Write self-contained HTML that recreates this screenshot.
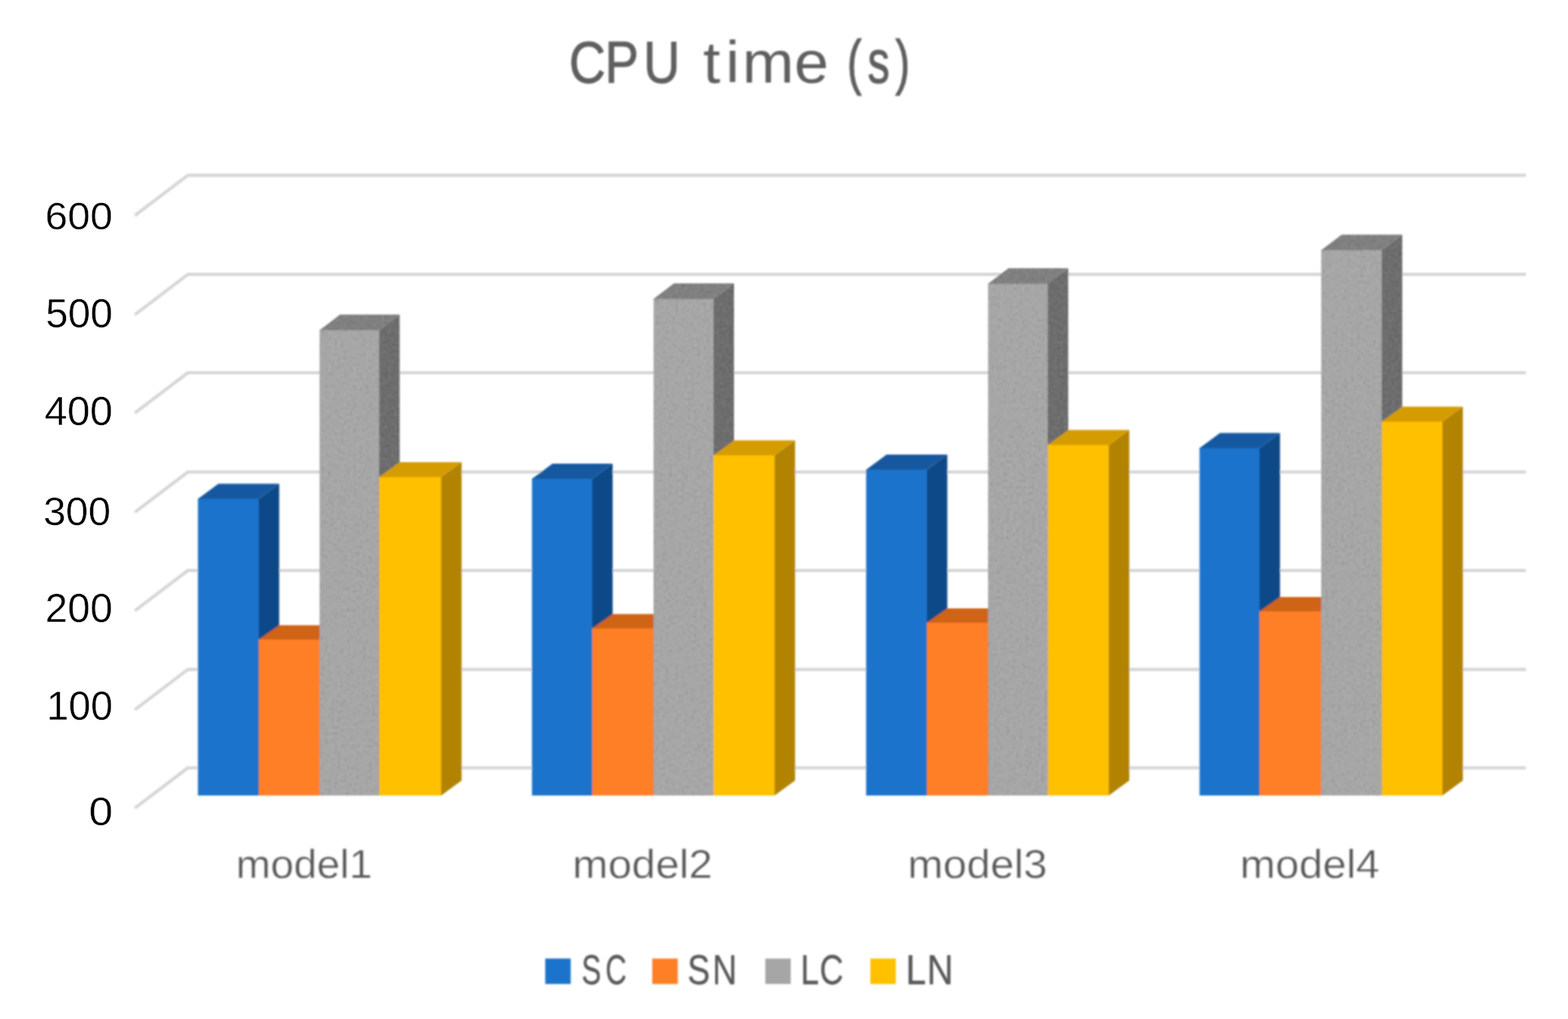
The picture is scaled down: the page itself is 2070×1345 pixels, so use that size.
<!DOCTYPE html>
<html lang="en">
<head>
<meta charset="utf-8">
<title>CPU time (s)</title>
<style>
html,body{margin:0;padding:0;background:#fff;}
body{width:2070px;height:1345px;overflow:hidden;}
svg{display:block;}
text{font-family:"Liberation Sans",sans-serif;}
.ttl{fill:#5e5e5e;font-size:78.5px;}
.cat{fill:#595959;font-size:54px;stroke:#fff;stroke-width:0.3px;}
.leg{fill:#595959;font-size:55px;}
.val{fill:#000;stroke:#fff;stroke-width:0.4px;}
</style>
</head>
<body>
<svg width="2070" height="1345" viewBox="0 0 2070 1345">
<rect width="2070" height="1345" fill="#ffffff"/>
<defs><filter id="grain" x="0" y="0" width="100%" height="100%" filterUnits="userSpaceOnUse"><feTurbulence type="fractalNoise" baseFrequency="0.24" numOctaves="1" seed="7" result="n"/><feColorMatrix in="n" type="matrix" values="0 0 0 0 0  0 0 0 0 0  0 0 0 0 0  0.2 0 0 0 -0.08" result="d"/><feComposite in="d" in2="SourceAlpha" operator="in" result="dark"/><feColorMatrix in="n" type="matrix" values="0 0 0 0 1  0 0 0 0 1  0 0 0 0 1  0 -0.2 0 0 0.115" result="l"/><feComposite in="l" in2="SourceAlpha" operator="in" result="light"/><feMerge><feMergeNode in="dark"/><feMergeNode in="light"/></feMerge></filter><filter id="soft" x="0" y="0" width="100%" height="100%" filterUnits="userSpaceOnUse"><feGaussianBlur stdDeviation="0.9"/></filter><filter id="soft2" x="0" y="0" width="100%" height="100%" filterUnits="userSpaceOnUse"><feGaussianBlur stdDeviation="0.5"/></filter></defs>
<g filter="url(#soft)">
<text class="ttl"><tspan x="751.2 798.6 849.6" y="109.2" textLength="141.2" lengthAdjust="spacingAndGlyphs" stroke="#5e5e5e" stroke-width="1.05">CPU</tspan> <tspan x="928.3 958 979.9 1048.5" y="109.2" textLength="154.5" lengthAdjust="spacingAndGlyphs">time</tspan> <tspan x="1118.3 1145.5 1181.9" y="108.8" textLength="67.5" lengthAdjust="spacingAndGlyphs" font-size="80.5" stroke="#5e5e5e" stroke-width="1.2">(s)</tspan></text>
<g fill="none" stroke="#d5d5d5" stroke-width="4.2" stroke-linejoin="round">
<polyline points="178,284.5 248,231.3 2014.5,231.3"/>
<polyline points="178,415.3 248,362.1 2014.5,362.1"/>
<polyline points="178,545.2 248,492 2014.5,492"/>
<polyline points="178,676.2 248,623 2014.5,623"/>
<polyline points="178,806.2 248,753 2014.5,753"/>
<polyline points="178,936.8 248,883.6 2014.5,883.6"/>
<polyline points="178,1066.7 248,1013.5 2014.5,1013.5"/>
</g>
<g>
<polygon fill="#0e4988" points="340.4,658.4 341.6,658.4 368.6,638.4 368.6,1030 341.6,1050 340.4,1050"/>
<polygon fill="#1259a0" points="261.3,659.6 261.3,658.4 288.3,638.4 368.6,638.4 341.6,658.4 341.6,659.6"/>
<rect fill="#1d73cb" x="261.3" y="658.4" width="80.3" height="391.6"/>
<polygon fill="#b3530f" points="420.7,844.2 421.9,844.2 448.9,825.2 448.9,1031 421.9,1050 420.7,1050"/>
<polygon fill="#cf6319" points="341.6,845.4 341.6,844.2 368.6,825.2 448.9,825.2 421.9,844.2 421.9,845.4"/>
<rect fill="#ff7f27" x="341.6" y="844.2" width="80.3" height="205.8"/>
<polygon fill="#6b6b6b" points="499.4,435.8 500.6,435.8 527.6,415.3 527.6,1029.5 500.6,1050 499.4,1050"/>
<polygon fill="#7e7e7e" points="421.9,437 421.9,435.8 448.9,415.3 527.6,415.3 500.6,435.8 500.6,437"/>
<rect fill="#a6a6a6" x="421.9" y="435.8" width="78.7" height="614.2"/>
<polygon fill="#b28300" points="581.2,629.8 582.4,629.8 609.4,610 609.4,1030.2 582.4,1050 581.2,1050"/>
<polygon fill="#d59c00" points="500.6,631 500.6,629.8 527.6,610 609.4,610 582.4,629.8 582.4,631"/>
<rect fill="#ffc000" x="500.6" y="629.8" width="81.8" height="420.2"/>
</g>
<g>
<polygon fill="#0e4988" points="780.6,632 781.8,632 808.8,612 808.8,1030 781.8,1050 780.6,1050"/>
<polygon fill="#1259a0" points="702.3,633.2 702.3,632 729.3,612 808.8,612 781.8,632 781.8,633.2"/>
<rect fill="#1d73cb" x="702.3" y="632" width="79.5" height="418"/>
<polygon fill="#b3530f" points="861.6,829.5 862.8,829.5 889.8,810.5 889.8,1031 862.8,1050 861.6,1050"/>
<polygon fill="#cf6319" points="781.8,830.7 781.8,829.5 808.8,810.5 889.8,810.5 862.8,829.5 862.8,830.7"/>
<rect fill="#ff7f27" x="781.8" y="829.5" width="81" height="220.5"/>
<polygon fill="#6b6b6b" points="940.8,394.6 942,394.6 969,374.1 969,1029.5 942,1050 940.8,1050"/>
<polygon fill="#7e7e7e" points="862.8,395.8 862.8,394.6 889.8,374.1 969,374.1 942,394.6 942,395.8"/>
<rect fill="#a6a6a6" x="862.8" y="394.6" width="79.2" height="655.4"/>
<polygon fill="#b28300" points="1021.4,601 1022.6,601 1049.6,581.2 1049.6,1030.2 1022.6,1050 1021.4,1050"/>
<polygon fill="#d59c00" points="942,602.2 942,601 969,581.2 1049.6,581.2 1022.6,601 1022.6,602.2"/>
<rect fill="#ffc000" x="942" y="601" width="80.6" height="449"/>
</g>
<g>
<polygon fill="#0e4988" points="1222.4,620 1223.6,620 1250.6,600 1250.6,1030 1223.6,1050 1222.4,1050"/>
<polygon fill="#1259a0" points="1143.4,621.2 1143.4,620 1170.4,600 1250.6,600 1223.6,620 1223.6,621.2"/>
<rect fill="#1d73cb" x="1143.4" y="620" width="80.2" height="430"/>
<polygon fill="#b3530f" points="1303.2,822 1304.4,822 1331.4,803 1331.4,1031 1304.4,1050 1303.2,1050"/>
<polygon fill="#cf6319" points="1223.6,823.2 1223.6,822 1250.6,803 1331.4,803 1304.4,822 1304.4,823.2"/>
<rect fill="#ff7f27" x="1223.6" y="822" width="80.8" height="228"/>
<polygon fill="#6b6b6b" points="1382,374.6 1383.2,374.6 1410.2,354.1 1410.2,1029.5 1383.2,1050 1382,1050"/>
<polygon fill="#7e7e7e" points="1304.4,375.8 1304.4,374.6 1331.4,354.1 1410.2,354.1 1383.2,374.6 1383.2,375.8"/>
<rect fill="#a6a6a6" x="1304.4" y="374.6" width="78.8" height="675.4"/>
<polygon fill="#b28300" points="1462.6,587.4 1463.8,587.4 1490.8,567.6 1490.8,1030.2 1463.8,1050 1462.6,1050"/>
<polygon fill="#d59c00" points="1383.2,588.6 1383.2,587.4 1410.2,567.6 1490.8,567.6 1463.8,587.4 1463.8,588.6"/>
<rect fill="#ffc000" x="1383.2" y="587.4" width="80.6" height="462.6"/>
</g>
<g>
<polygon fill="#0e4988" points="1661.6,591.5 1662.8,591.5 1689.8,571.5 1689.8,1030 1662.8,1050 1661.6,1050"/>
<polygon fill="#1259a0" points="1583.6,592.7 1583.6,591.5 1610.6,571.5 1689.8,571.5 1662.8,591.5 1662.8,592.7"/>
<rect fill="#1d73cb" x="1583.6" y="591.5" width="79.2" height="458.5"/>
<polygon fill="#b3530f" points="1743,807 1744.2,807 1771.2,788 1771.2,1031 1744.2,1050 1743,1050"/>
<polygon fill="#cf6319" points="1662.8,808.2 1662.8,807 1689.8,788 1771.2,788 1744.2,807 1744.2,808.2"/>
<rect fill="#ff7f27" x="1662.8" y="807" width="81.4" height="243"/>
<polygon fill="#6b6b6b" points="1823,330.2 1824.2,330.2 1851.2,309.7 1851.2,1029.5 1824.2,1050 1823,1050"/>
<polygon fill="#7e7e7e" points="1744.2,331.4 1744.2,330.2 1771.2,309.7 1851.2,309.7 1824.2,330.2 1824.2,331.4"/>
<rect fill="#a6a6a6" x="1744.2" y="330.2" width="80" height="719.8"/>
<polygon fill="#b28300" points="1903,556.6 1904.2,556.6 1931.2,536.8 1931.2,1030.2 1904.2,1050 1903,1050"/>
<polygon fill="#d59c00" points="1824.2,557.8 1824.2,556.6 1851.2,536.8 1931.2,536.8 1904.2,556.6 1904.2,557.8"/>
<rect fill="#ffc000" x="1824.2" y="556.6" width="80" height="493.4"/>
</g>
<g filter="url(#grain)" fill="#000">
<polygon points="421.9,435.8 448.9,415.3 527.6,415.3 527.6,610 500.6,629.8 500.6,1050 421.9,1050"/>
<polygon points="862.8,394.6 889.8,374.1 969,374.1 969,581.2 942,601 942,1050 862.8,1050"/>
<polygon points="1304.4,374.6 1331.4,354.1 1410.2,354.1 1410.2,567.6 1383.2,587.4 1383.2,1050 1304.4,1050"/>
<polygon points="1744.2,330.2 1771.2,309.7 1851.2,309.7 1851.2,536.8 1824.2,556.6 1824.2,1050 1744.2,1050"/>
</g>
<text class="cat" x="311.4" y="1158.9" textLength="180.2" lengthAdjust="spacingAndGlyphs">model1</text>
<text class="cat" x="755.8" y="1158.9" textLength="184.8" lengthAdjust="spacingAndGlyphs">model2</text>
<text class="cat" x="1198.2" y="1158.9" textLength="184.2" lengthAdjust="spacingAndGlyphs">model3</text>
<text class="cat" x="1637" y="1158.9" textLength="184.1" lengthAdjust="spacingAndGlyphs">model4</text>
<rect fill="#1d73cb" x="719.8" y="1265.2" width="33.6" height="33.6"/>
<text class="leg"><tspan x="767.8 799.3" y="1299" textLength="53.8" lengthAdjust="spacingAndGlyphs" stroke="#595959" stroke-width="0.4">SC</tspan></text>
<rect fill="#ff7f27" x="861.1" y="1265.2" width="33.6" height="33.6"/>
<text class="leg"><tspan x="907.6 940.4" y="1299" textLength="62.1" lengthAdjust="spacingAndGlyphs" stroke="#595959" stroke-width="0.4">SN</tspan></text>
<rect fill="#a6a6a6" x="1010.3" y="1265.2" width="33.6" height="33.6"/>
<text class="leg"><tspan x="1056.9 1081.9" y="1299" textLength="55.7" lengthAdjust="spacingAndGlyphs" stroke="#595959" stroke-width="0.4">LC</tspan></text>
<rect fill="#ffc000" x="1149" y="1265.2" width="33.6" height="33.6"/>
<text class="leg"><tspan x="1195.7 1223.7" y="1299" textLength="61.7" lengthAdjust="spacingAndGlyphs" stroke="#595959" stroke-width="0.4">LN</tspan></text>
</g>
<g filter="url(#soft2)">
<text class="val" x="59.6" y="302.7" font-size="50.8" textLength="89.2" lengthAdjust="spacingAndGlyphs">600</text>
<text class="val" x="60.2" y="431.7" font-size="54.5" textLength="88.7" lengthAdjust="spacingAndGlyphs">500</text>
<text class="val" x="58.7" y="560.5" font-size="53.5" textLength="90.1" lengthAdjust="spacingAndGlyphs">400</text>
<text class="val" x="57.2" y="692.8" font-size="51.3" textLength="89" lengthAdjust="spacingAndGlyphs">300</text>
<text class="val" x="59.6" y="821.2" font-size="54.5" textLength="89.2" lengthAdjust="spacingAndGlyphs">200</text>
<text class="val" x="61.4" y="950.1" font-size="53.5" textLength="87.4" lengthAdjust="spacingAndGlyphs">100</text>
<text class="val" x="117.3" y="1089.1" font-size="51.3" textLength="31.8" lengthAdjust="spacingAndGlyphs">0</text>
</g>
</svg>
</body>
</html>
